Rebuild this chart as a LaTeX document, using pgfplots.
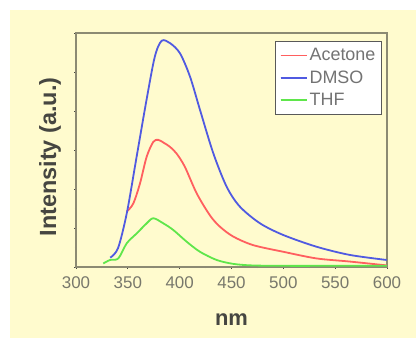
\documentclass[border=0pt]{standalone}
\usepackage{fontspec}
\setmainfont{Liberation Sans}
\usepackage{pgfplots}
\pgfplotsset{compat=1.18}
\definecolor{bgy}{RGB}{255,251,206}
\definecolor{framec}{RGB}{140,138,115}
\definecolor{tickc}{RGB}{120,120,108}
\definecolor{labc}{RGB}{70,70,65}
\definecolor{legc}{RGB}{115,115,115}
\definecolor{cred}{RGB}{255,95,95}
\definecolor{cblue}{RGB}{80,90,225}
\definecolor{cgreen}{RGB}{95,230,75}
\begin{document}
\begin{tikzpicture}
\path[use as bounding box, fill=white] (-76bp,-73bp) rectangle (340bp,267bp);
\fill[bgy] (-66bp,-71bp) rectangle (340bp,257bp);
\begin{axis}[
  at={(0,0)}, anchor=south west,
  scale only axis, width=311bp, height=234bp,
  xmin=300, xmax=600, ymin=0, ymax=6,
  axis line style={framec, line width=1.6bp},
  xtick={300,350,...,600},
  minor xtick={325,375,...,575},
  ytick={0,1,...,6},
  minor ytick={0.5,1.5,...,5.5},
  yticklabels={},
  tick pos=left,
  tick align=center,
  major tick length=3bp, minor tick length=2bp,
  tick style={labc, line width=0.9bp},
  xticklabel style={font=\fontsize{17}{17}\selectfont, text=tickc, yshift=-5bp},
  /pgf/number format/assume math mode=true,
  /pgf/number format/1000 sep={},
  xlabel={\textbf{nm}},
  xlabel style={font=\fontsize{22}{22}\selectfont, text=labc, at={(axis description cs:0.5,0)}, anchor=center, yshift=-53bp},
  ylabel={\textbf{Intensity (a.u.)}},
  ylabel style={font=\fontsize{23.5}{23.5}\selectfont, text=labc, at={(axis description cs:-0.0836,0.47)}, anchor=center},
  legend style={at={(1,1)}, anchor=north east, xshift=-5bp, yshift=-8bp,
    draw=black!65, line width=1.2bp, fill=white,
    font=\fontsize{18}{18}\selectfont,
    row sep=4.5bp, inner xsep=4bp, inner ysep=5bp},
  legend cell align=left,
  legend image code/.code={%
    \path[draw=none, fill=none] (0bp,0bp);%
    \draw[#1] (0bp,0bp) -- (26bp,0bp);%
    \draw[#1] (0bp,0bp) -- (26bp,0bp);},
  clip=true,
]
\addplot[cred, line width=1.8bp, smooth, forget plot] coordinates {
(349,1.42) (355.3,1.63) (361.7,2.14) (368.2,2.83) (374.6,3.21) (379.4,3.26)
(385,3.18) (390.7,3.08) (397,2.91) (405,2.57) (416.4,1.89) (429.3,1.32)
(439,1.03) (451.7,0.78) (471,0.56) (500,0.39) (532,0.22) (564,0.14) (600,0.04)};
\addplot[cblue, line width=1.8bp, smooth, forget plot] coordinates {
(333,0.24) (340.5,0.48) (349,1.38) (358.5,2.83) (368,4.28) (376,5.39) (382.6,5.8)
(390.7,5.74) (400.3,5.48) (410,4.88) (419.6,4.03) (432.4,2.92) (445.3,2.06)
(458,1.55) (477.5,1.12) (500,0.82) (532,0.52) (564,0.31) (599.7,0.18)};
\addplot[cgreen, line width=1.8bp, smooth, forget plot] coordinates {
(326.3,0.09) (332.8,0.18) (340.8,0.22) (349,0.61) (358.5,0.86) (368.2,1.12)
(374.6,1.25) (384.2,1.12) (393.8,0.95) (406.7,0.65) (419.6,0.39) (435.7,0.18)
(451.7,0.08) (470,0.04) (500,0.03) (550,0.03) (600,0.03)};
\addlegendimage{draw=cred, line width=1.8bp}
\addlegendentry{\color{legc}Acetone}
\addlegendimage{draw=cblue, line width=1.8bp}
\addlegendentry{\color{legc}DMSO}
\addlegendimage{draw=cgreen, line width=1.8bp}
\addlegendentry{\color{legc}THF}
\end{axis}
\end{tikzpicture}
\end{document}
